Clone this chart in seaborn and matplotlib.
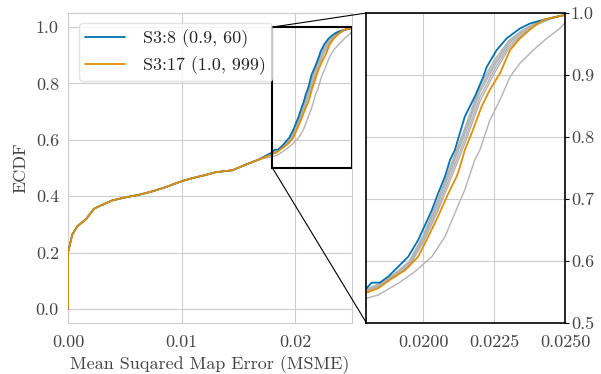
import numpy as np
import pandas as pd
import matplotlib
matplotlib.use("Agg")
import matplotlib.pyplot as plt
import seaborn as sns
from matplotlib.patches import Rectangle, ConnectionPatch

# ---- data ----
# shared lower part of all ECDF curves (MSME, ECDF)
low_x = [0.0, 0.0, 0.00038, 0.00082, 0.00156, 0.00229, 0.00273, 0.0039, 0.0051,
         0.00626, 0.00743, 0.0086, 0.0100, 0.01095, 0.0121, 0.0130, 0.01448,
         0.01565, 0.0168]
low_y = [0.0, 0.2, 0.264, 0.293, 0.317, 0.355, 0.364, 0.385, 0.396,
         0.405, 0.417, 0.432, 0.453, 0.464, 0.475, 0.485, 0.492,
         0.512, 0.530]

# upper part, per series
blue_x = [0.0180, 0.01818, 0.01847, 0.01877, 0.01912, 0.01947, 0.01982, 0.02006,
          0.0203, 0.02052, 0.02076, 0.02094, 0.02111, 0.02146, 0.02181, 0.02211,
          0.02223, 0.02258, 0.02293, 0.0234, 0.02375, 0.02422, 0.02469, 0.0250]
blue_y = [0.556, 0.565, 0.565, 0.575, 0.591, 0.607, 0.634, 0.658,
          0.682, 0.709, 0.736, 0.763, 0.779, 0.833, 0.865, 0.897,
          0.913, 0.940, 0.959, 0.975, 0.983, 0.989, 0.994, 0.997]

orange_x = [0.0180, 0.01841, 0.01889, 0.01935, 0.01982, 0.02017, 0.02052, 0.02088,
            0.02117, 0.02129, 0.02146, 0.0217, 0.02205, 0.02234, 0.0227, 0.02305,
            0.0234, 0.02387, 0.02422, 0.0250]
orange_y = [0.549, 0.556, 0.572, 0.585, 0.607, 0.639, 0.672, 0.709,
            0.736, 0.752, 0.779, 0.806, 0.849, 0.876, 0.903, 0.940,
            0.959, 0.978, 0.989, 0.997]

gray_out_x = [0.0180, 0.01841, 0.01912, 0.01971, 0.0203, 0.02076, 0.02111, 0.02146,
              0.02181, 0.02199, 0.02234, 0.0227, 0.02305, 0.0234, 0.02387,
              0.02434, 0.0248, 0.0250]
gray_out_y = [0.540, 0.545, 0.564, 0.583, 0.607, 0.639, 0.677, 0.715,
              0.763, 0.779, 0.827, 0.860, 0.897, 0.919, 0.940,
              0.959, 0.975, 0.985]

band_x = [0.0180, 0.0185, 0.0190, 0.0195, 0.0200, 0.0205, 0.0210, 0.0215,
          0.0220, 0.0225, 0.0230, 0.0235, 0.0240, 0.0245, 0.0250]
gray_a_y = [0.555, 0.564, 0.580, 0.599, 0.642, 0.697, 0.759, 0.819,
            0.884, 0.924, 0.955, 0.973, 0.985, 0.992, 0.997]
gray_b_y = [0.554, 0.563, 0.579, 0.598, 0.640, 0.694, 0.754, 0.814,
            0.878, 0.919, 0.952, 0.972, 0.984, 0.992, 0.997]
gray_c_y = [0.553, 0.562, 0.577, 0.596, 0.637, 0.690, 0.750, 0.809,
            0.873, 0.915, 0.950, 0.970, 0.983, 0.992, 0.997]
gray_d_y = [0.552, 0.561, 0.575, 0.593, 0.633, 0.684, 0.743, 0.801,
            0.865, 0.909, 0.946, 0.967, 0.982, 0.991, 0.997]
gray_e_y = [0.551, 0.560, 0.574, 0.591, 0.630, 0.679, 0.736, 0.794,
            0.858, 0.903, 0.942, 0.965, 0.981, 0.991, 0.997]

label_blue = "S3:8 (0.9, 60)"
label_orange = "S3:17 (1.0, 999)"
xlabel = "Mean Suqared Map Error (MSME)"
ylabel = "ECDF"

# ---- style ----
sns.set_style("whitegrid")
plt.rcParams["font.family"] = "serif"
plt.rcParams["font.serif"] = ["cmr10", "DejaVu Serif"]
plt.rcParams["mathtext.fontset"] = "cm"
plt.rcParams["axes.formatter.use_mathtext"] = True
plt.rcParams["axes.unicode_minus"] = False

BLUE = "#0173b2"
ORANGE = "#de8f05"
GRAY = "#b3b3b3"
FS = 13
TXT = "#444444"

def full(ux, uy):
    return pd.DataFrame({"x": low_x + list(ux), "y": low_y + list(uy)})

grays = [(gray_out_x, gray_out_y), (band_x, gray_a_y), (band_x, gray_b_y),
         (band_x, gray_c_y), (band_x, gray_d_y), (band_x, gray_e_y)]

fig = plt.figure(figsize=(6.01, 3.74), dpi=100)
ax = fig.add_axes([0.1131, 0.1364, 0.4726, 0.8289])
axin = fig.add_axes([0.6098, 0.1364, 0.3310, 0.8289])

for a in (ax, axin):
    for gx, gy in grays:
        sns.lineplot(data=full(gx, gy), x="x", y="y", ax=a, color=GRAY,
                     lw=1.0, sort=False, estimator=None, zorder=3)
    sns.lineplot(data=full(orange_x, orange_y), x="x", y="y", ax=a, color=ORANGE,
                 lw=1.3, sort=False, estimator=None, zorder=3.2,
                 label=label_orange if a is ax else None)
    sns.lineplot(data=full(blue_x, blue_y), x="x", y="y", ax=a, color=BLUE,
                 lw=1.3, sort=False, estimator=None, zorder=3.1,
                 label=label_blue if a is ax else None)

# main axes
ax.set_xlim(0, 0.025)
ax.set_ylim(-0.05, 1.05)
ax.set_xticks([0.0, 0.01, 0.02])
ax.set_xticklabels(["0.00", "0.01", "0.02"])
ax.set_yticks([0.0, 0.2, 0.4, 0.6, 0.8, 1.0])
ax.set_yticklabels(["0.0", "0.2", "0.4", "0.6", "0.8", "1.0"])
ax.tick_params(axis="x", labelsize=FS, colors=TXT, pad=5)
ax.tick_params(axis="y", labelsize=FS, colors=TXT, pad=3)
ax.set_xlabel(xlabel, fontsize=FS, color=TXT, labelpad=4)
ax.set_ylabel(ylabel, fontsize=FS, color=TXT, labelpad=5)
for s in ax.spines.values():
    s.set_color("#cccccc")
h, l = ax.get_legend_handles_labels()
order = [l.index(label_blue), l.index(label_orange)]
leg = ax.legend([h[i] for i in order], [l[i] for i in order], loc="upper left",
                fontsize=FS, frameon=True, bbox_to_anchor=(0.039, 0.968),
                borderaxespad=0.0, handlelength=2.2, handletextpad=1.0,
                borderpad=0.35, labelspacing=0.45)
leg.get_frame().set_edgecolor("#dddddd")

# zoom box
ax.add_patch(Rectangle((0.018, 0.5), 0.007, 0.5, fill=False, edgecolor="black",
                       lw=1.5, zorder=5))

# inset axes
axin.set_xlim(0.018, 0.025)
axin.set_ylim(0.5, 1.0)
axin.set_xticks([0.02, 0.0225, 0.025])
axin.set_xticklabels(["0.0200", "0.0225", "0.0250"])
axin.set_yticks([0.5, 0.6, 0.7, 0.8, 0.9, 1.0])
axin.set_yticklabels(["0.5", "0.6", "0.7", "0.8", "0.9", "1.0"])
axin.yaxis.tick_right()
axin.tick_params(axis="y", right=True, length=3, width=0.8, color="black",
                 labelsize=FS, labelcolor=TXT, pad=1)
axin.tick_params(axis="x", labelsize=FS, labelcolor=TXT, pad=5)
axin.set_xlabel("")
axin.set_ylabel("")
for s in axin.spines.values():
    s.set_color("black")
    s.set_linewidth(1.2)
    s.set_zorder(4)

# connector lines
for yv in (1.0, 0.5):
    con = ConnectionPatch(xyA=(0.018, yv), coordsA=ax.transData,
                          xyB=(0.018, yv), coordsB=axin.transData,
                          color="black", lw=0.8)
    fig.add_artist(con)

fig.savefig("out.png", dpi=100)
